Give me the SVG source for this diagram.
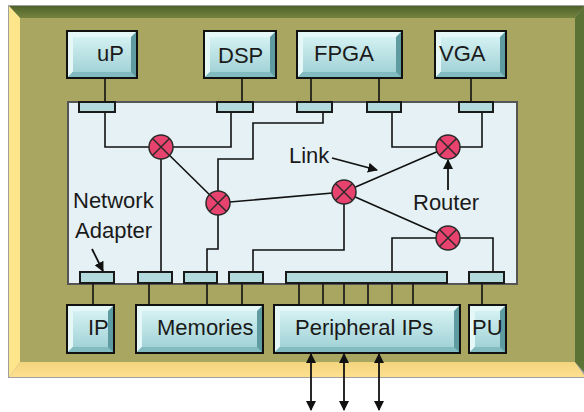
<svg xmlns="http://www.w3.org/2000/svg" width="584" height="412" viewBox="0 0 584 412">
  <defs>
    <linearGradient id="faceGrad" x1="0" y1="0" x2="0" y2="1">
      <stop offset="0" stop-color="#d4f1f2"/>
      <stop offset="1" stop-color="#a3d3d7"/>
    </linearGradient>
    <linearGradient id="topBevel" x1="0" y1="0" x2="0" y2="1">
      <stop offset="0" stop-color="#4e6229"/>
      <stop offset="1" stop-color="#76833f"/>
    </linearGradient>
    <linearGradient id="bottomBevel" x1="0" y1="0" x2="0" y2="1">
      <stop offset="0" stop-color="#f3d47e"/>
      <stop offset="1" stop-color="#fde08f"/>
    </linearGradient>
    <marker id="head" viewBox="0 0 10 10" refX="9" refY="5" markerWidth="10" markerHeight="10" markerUnits="userSpaceOnUse" orient="auto-start-reverse">
      <path d="M0,0 L10,5 L0,10 Z" fill="#111"/>
    </marker>
    <style>
      .lbl { font-family: "Liberation Sans", Arial, sans-serif; font-size: 22px; fill: #1a1a1a; }
      .wire { fill: none; stroke: #111; stroke-width: 1.6; }
      .adapter { fill: #b3dadd; stroke: #1a1a1a; stroke-width: 2; }
      .btn-base { fill: #5f9ca1; stroke: #111; stroke-width: 2; }
      .btn-hi { fill: #e6f7f7; }
      .btn-lo { fill: #83bcc0; }
      .btn-face { fill: url(#faceGrad); }
      .router circle { fill: #e8436f; stroke: #2a2a2a; stroke-width: 1.5; }
      .router path { stroke: #2a2a2a; stroke-width: 1.5; fill: none; }
      .ptr { fill: none; stroke: #111; stroke-width: 1.8; marker-end: url(#head); }
      .ptr2 { fill: none; stroke: #111; stroke-width: 1.8; marker-end: url(#head); marker-start: url(#head); }
    </style>
  </defs>

  <!-- Board frame with bevelled edges -->
  <g id="board">
    <rect x="8" y="5" width="580" height="373" fill="#a0a0a0"/>
    <polygon points="9,6 584,6 575,18 20,18" fill="url(#topBevel)"/>
    <polygon points="9,6 20,18 20,362 9,377" fill="#fde58c"/>
    <polygon points="9,377 20,362 575,362 584,375 584,377" fill="url(#bottomBevel)"/>
    <polygon points="584,6 575,18 575,362 584,372" fill="#5b7436"/>
    <rect x="20" y="18" width="555" height="344" fill="#a9a661"/>
  </g>

  <!-- On-chip network area -->
  <g id="network-area">
    <rect x="68" y="102" width="449" height="182" fill="#e5f1f4" stroke="#555" stroke-width="2"/>
  </g>

  <!-- Connectors -->
  <g id="connectors">
    <!-- cores to top adapters -->
    <line class="wire" x1="105" y1="78" x2="105" y2="102"/>
    <line class="wire" x1="242" y1="78" x2="242" y2="102"/>
    <line class="wire" x1="311" y1="78" x2="311" y2="102"/>
    <line class="wire" x1="379" y1="78" x2="379" y2="102"/>
    <line class="wire" x1="471" y1="78" x2="471" y2="102"/>
    <!-- top adapters to routers -->
    <polyline class="wire" points="105,112 105,147 231,147 231,112"/>
    <polyline class="wire" points="323,112 323,123 253,123 253,159 218,159 218,203"/>
    <polyline class="wire" points="392,112 392,147 482,147 482,112"/>
    <!-- router to router links -->
    <line class="wire" x1="161" y1="147" x2="218" y2="203"/>
    <line class="wire" x1="218" y1="203" x2="344" y2="192"/>
    <line class="wire" x1="344" y1="192" x2="448" y2="147"/>
    <line class="wire" x1="344" y1="192" x2="448" y2="238"/>
    <!-- routers to bottom adapters -->
    <line class="wire" x1="161" y1="147" x2="161" y2="272"/>
    <polyline class="wire" points="218,203 218,249 207,249 207,272"/>
    <polyline class="wire" points="344,192 344,250 253,250 253,272"/>
    <polyline class="wire" points="392,272 392,238 493,238 493,272"/>
    <!-- bottom adapters to cores -->
    <line class="wire" x1="93" y1="284" x2="93" y2="305"/>
    <line class="wire" x1="149" y1="284" x2="149" y2="305"/>
    <line class="wire" x1="207" y1="284" x2="207" y2="305"/>
    <line class="wire" x1="242" y1="284" x2="242" y2="305"/>
    <line class="wire" x1="299" y1="284" x2="299" y2="305"/>
    <line class="wire" x1="323" y1="284" x2="323" y2="305"/>
    <line class="wire" x1="344" y1="284" x2="344" y2="305"/>
    <line class="wire" x1="368" y1="284" x2="368" y2="305"/>
    <line class="wire" x1="392" y1="284" x2="392" y2="305"/>
    <line class="wire" x1="413" y1="284" x2="413" y2="305"/>
    <line class="wire" x1="482" y1="284" x2="482" y2="305"/>
    <!-- off-chip I/O -->
    <line class="ptr2" x1="311" y1="354" x2="311" y2="410"/>
    <line class="ptr2" x1="344" y1="354" x2="344" y2="410"/>
    <line class="ptr2" x1="379" y1="354" x2="379" y2="410"/>
    <!-- annotation pointers -->
    <line class="ptr" x1="332" y1="158" x2="377" y2="170"/>
    <line class="ptr" x1="448" y1="190" x2="448" y2="160"/>
    <line class="ptr" x1="92" y1="249" x2="103" y2="271"/>
  </g>

  <!-- Network adapters -->
  <g id="adapters">
    <rect class="adapter" x="79" y="102" width="36" height="10"/>
    <rect class="adapter" x="217" y="102" width="36" height="10"/>
    <rect class="adapter" x="297" y="102" width="35" height="10"/>
    <rect class="adapter" x="367" y="102" width="34" height="10"/>
    <rect class="adapter" x="459" y="102" width="34" height="10"/>
    <rect class="adapter" x="80" y="272" width="34" height="11"/>
    <rect class="adapter" x="138" y="272" width="34" height="11"/>
    <rect class="adapter" x="184" y="272" width="33" height="11"/>
    <rect class="adapter" x="229" y="272" width="34" height="11"/>
    <rect class="adapter" x="286" y="272" width="161" height="11"/>
    <rect class="adapter" x="469" y="272" width="35" height="11"/>
  </g>

  <!-- Routers -->
  <g id="router-1" class="router"><circle cx="161" cy="147" r="12"/><path d="M152.5,138.5 L169.5,155.5 M169.5,138.5 L152.5,155.5"/></g>
  <g id="router-2" class="router"><circle cx="218" cy="203" r="12"/><path d="M209.5,194.5 L226.5,211.5 M226.5,194.5 L209.5,211.5"/></g>
  <g id="router-3" class="router"><circle cx="344" cy="192" r="12"/><path d="M335.5,183.5 L352.5,200.5 M352.5,183.5 L335.5,200.5"/></g>
  <g id="router-4" class="router"><circle cx="448" cy="147" r="12"/><path d="M439.5,138.5 L456.5,155.5 M456.5,138.5 L439.5,155.5"/></g>
  <g id="router-5" class="router"><circle cx="448" cy="238" r="12"/><path d="M439.5,229.5 L456.5,246.5 M456.5,229.5 L439.5,246.5"/></g>

  <!-- Cores -->
  <g id="core-up">
    <rect class="btn-base" x="67" y="31" width="70" height="47"/>
    <polygon class="btn-hi" points="68,32 136,32 131,37 73,37 73,72 68,77"/>
    <polygon class="btn-lo" points="68,77 73,72 131,72 136,77"/>
    <rect class="btn-face" x="73" y="37" width="58" height="35"/>
    <text class="lbl" x="97" y="61">uP</text>
  </g>
  <g id="core-dsp">
    <rect class="btn-base" x="204" y="31" width="72" height="47"/>
    <polygon class="btn-hi" points="205,32 275,32 270,37 210,37 210,72 205,77"/>
    <polygon class="btn-lo" points="205,77 210,72 270,72 275,77"/>
    <rect class="btn-face" x="210" y="37" width="60" height="35"/>
    <text class="lbl" x="218" y="63">DSP</text>
  </g>
  <g id="core-fpga">
    <rect class="btn-base" x="297" y="31" width="105" height="47"/>
    <polygon class="btn-hi" points="298,32 401,32 396,37 303,37 303,72 298,77"/>
    <polygon class="btn-lo" points="298,77 303,72 396,72 401,77"/>
    <rect class="btn-face" x="303" y="37" width="93" height="35"/>
    <text class="lbl" x="314" y="61">FPGA</text>
  </g>
  <g id="core-vga">
    <rect class="btn-base" x="435" y="31" width="71" height="47"/>
    <polygon class="btn-hi" points="436,32 505,32 500,37 441,37 441,72 436,77"/>
    <polygon class="btn-lo" points="436,77 441,72 500,72 505,77"/>
    <rect class="btn-face" x="441" y="37" width="59" height="35"/>
    <text class="lbl" x="439" y="61">VGA</text>
  </g>
  <g id="core-ip">
    <rect class="btn-base" x="67" y="305" width="47" height="48"/>
    <polygon class="btn-hi" points="68,306 113,306 108,311 73,311 73,347 68,352"/>
    <polygon class="btn-lo" points="68,352 73,347 108,347 113,352"/>
    <rect class="btn-face" x="73" y="311" width="35" height="36"/>
    <text class="lbl" x="88" y="335">IP</text>
  </g>
  <g id="core-memories">
    <rect class="btn-base" x="136" y="305" width="127" height="48"/>
    <polygon class="btn-hi" points="137,306 262,306 257,311 142,311 142,347 137,352"/>
    <polygon class="btn-lo" points="137,352 142,347 257,347 262,352"/>
    <rect class="btn-face" x="142" y="311" width="115" height="36"/>
    <text class="lbl" x="157" y="335">Memories</text>
  </g>
  <g id="core-peripheral">
    <rect class="btn-base" x="274" y="305" width="186" height="48"/>
    <polygon class="btn-hi" points="275,306 459,306 454,311 280,311 280,347 275,352"/>
    <polygon class="btn-lo" points="275,352 280,347 454,347 459,352"/>
    <rect class="btn-face" x="280" y="311" width="174" height="36"/>
    <text class="lbl" x="295" y="335">Peripheral IPs</text>
  </g>
  <g id="core-pu">
    <rect class="btn-base" x="469" y="305" width="37" height="48"/>
    <polygon class="btn-hi" points="470,306 505,306 500,311 475,311 475,347 470,352"/>
    <polygon class="btn-lo" points="470,352 475,347 500,347 505,352"/>
    <rect class="btn-face" x="475" y="311" width="25" height="36"/>
    <text class="lbl" x="472" y="335">PU</text>
  </g>

  <!-- Annotations -->
  <g id="labels">
    <text class="lbl" x="289" y="163">Link</text>
    <text class="lbl" x="413" y="210">Router</text>
    <text class="lbl" x="73" y="208">Network</text>
    <text class="lbl" x="75" y="238">Adapter</text>
  </g>
</svg>
